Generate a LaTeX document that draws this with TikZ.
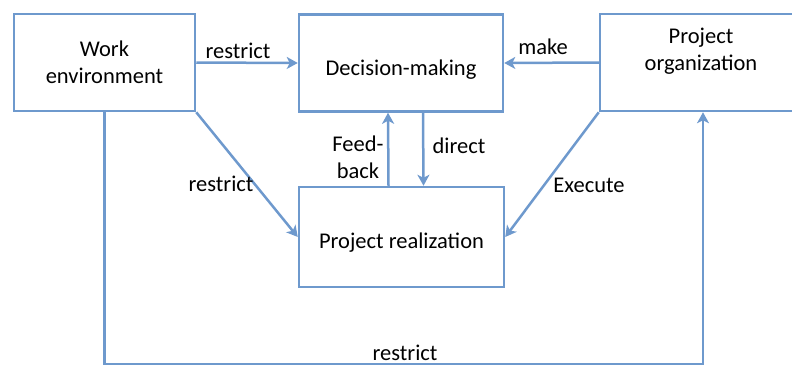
\documentclass[tikz,border=0pt]{standalone}
\usepackage{fontspec}
\setmainfont{Carlito}
\usetikzlibrary{arrows.meta}
\definecolor{linkblue}{RGB}{110,153,205}

\begin{document}
\begin{tikzpicture}[x=1bp, y=-1bp, font=\fontsize{22.5bp}{27bp}\selectfont]
    \tikzset{
        block/.style={draw=linkblue, line width=2.5bp, minimum width=#1, minimum height=97bp, inner sep=0pt, align=center},
        link/.style={draw=linkblue, line width=2.5bp, -{Stealth[length=11bp, width=12bp, inset=3bp]}}
    }
    \useasboundingbox (0,0) rectangle (792,368);

    % Boxes
    \node[block=181bp] (work) at (104.5,62.5) {Work\\environment};
    \node[block=204bp, text height=26bp, text depth=2bp] (dec) at (401,63) {Decision-making};
    \node[block=200bp] (org) at (700,62.5) {};
    \node[align=center] (orgtxt) at (701,51) {Project\\organization};
    \node[block=205bp, minimum height=100bp, text height=24bp, text depth=2bp] (real) at (401.5,237) {Project realization};

    % Top row
    \draw[link] (work.east) -- (dec.west);
    \node (restrict1) at (238,51) {restrict};
    \draw[link] (org.west) -- (dec.east);
    \node (make) at (543,47) {make};

    % Between decision and realization
    \draw[link] ([xshift=-13bp]real.north) -- ([xshift=-13bp]dec.south);
    \node[align=center] (feedback) at (358,157) {Feed-\\back};
    \draw[link] ([xshift=22bp]dec.south) -- ([xshift=22bp]real.north);
    \node (direct) at (459,146) {direct};

    % Diagonals
    \draw[link] (work.south east) -- (real.west);
    \node (restrict2) at (221,184) {restrict};
    \draw[link] (org.south west) -- (real.east);
    \node (execute) at (589,185) {Execute};

    % Bottom loop
    \coordinate (br) at (703,364);
    \draw[link] (work.south) |- (br) -- (br |- org.south);
    \node (restrict3) at (405,353) {restrict};
\end{tikzpicture}
\end{document}
